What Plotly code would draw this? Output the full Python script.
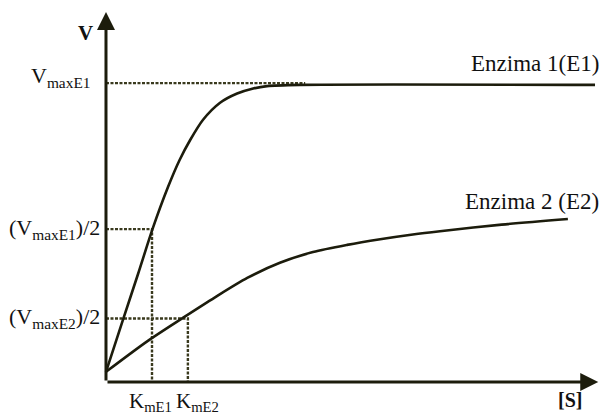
import plotly.graph_objects as go

# Data (arbitrary units: x in units of KmE1, y in units of VmaxE1)
e1_s = [0.0, 0.37, 0.70, 1.02, 1.35, 1.60, 1.83, 2.11, 2.48, 2.85, 3.20, 3.50, 4.22, 10.63]
e1_v = [0.034, 0.209, 0.364, 0.517, 0.655, 0.745, 0.812, 0.880, 0.937, 0.968, 0.985, 0.993, 0.997, 0.997]
e2_s = [0.0, 0.91, 1.67, 2.37, 3.07, 3.78, 4.50, 5.24, 5.96, 6.67, 7.26, 8.60, 10.04]
e2_v = [0.034, 0.138, 0.215, 0.284, 0.349, 0.400, 0.436, 0.460, 0.479, 0.495, 0.506, 0.528, 0.547]

vmax_e1 = 1.003
half_vmax_e1 = 0.513
half_vmax_e2 = 0.213
km_e1 = 1.0
km_e2 = 1.78
vmax_line_end = 4.33

labels = {
    "e1": "Enzima 1(E1)",
    "e2": "Enzima 2 (E2)",
    "y": "V",
    "x": "[S]",
}

x_min, x_max = -2.304, 10.76
y_min, y_max = -0.111, 1.282
x_arrow = 10.70
y_arrow = 1.242

ink = "#1c1c0c"
guide = "#3a3a1e"
serif = "Liberation Serif"

fig = go.Figure()

# guide lines
gl = dict(color=guide, width=2.4, dash="3px,1.5px")
fig.add_trace(go.Scatter(x=[0, vmax_line_end], y=[vmax_e1, vmax_e1], mode="lines",
                         line=gl, hoverinfo="skip"))
fig.add_trace(go.Scatter(x=[0, km_e1, km_e1], y=[half_vmax_e1, half_vmax_e1, 0], mode="lines",
                         line=gl, hoverinfo="skip"))
fig.add_trace(go.Scatter(x=[0, km_e2, km_e2], y=[half_vmax_e2, half_vmax_e2, 0], mode="lines",
                         line=gl, hoverinfo="skip"))

# curves
fig.add_trace(go.Scatter(x=e1_s, y=e1_v, mode="lines",
                         line=dict(color=ink, width=2.6, shape="spline", smoothing=0.8)))
fig.add_trace(go.Scatter(x=e2_s, y=e2_v, mode="lines",
                         line=dict(color=ink, width=2.6, shape="spline", smoothing=0.8)))

ann = []
# axes arrows
ann.append(dict(x=0, y=y_arrow, ax=0, ay=0, xref="x", yref="y", axref="x", ayref="y",
                showarrow=True, arrowhead=2, arrowsize=1.2, arrowwidth=3, arrowcolor=ink, text=""))
ann.append(dict(x=x_arrow, y=0, ax=0, ay=0, xref="x", yref="y", axref="x", ayref="y",
                showarrow=True, arrowhead=2, arrowsize=1.2, arrowwidth=3, arrowcolor=ink, text=""))

def txt(x, y, t, xanchor="center", yanchor="middle", size=22):
    ann.append(dict(x=x, y=y, text=t, showarrow=False, xanchor=xanchor, yanchor=yanchor,
                    xref="x", yref="y", font=dict(family=serif, size=size, color="#111111")))

txt(-0.24, 1.171, "<b>" + labels["y"] + "</b>", xanchor="right", size=21)
txt(-0.28, vmax_e1 + 0.02, "V<sub>maxE1</sub>", xanchor="right")
txt(-0.09, half_vmax_e1, "(V<sub>maxE1</sub>)/2", xanchor="right")
txt(-0.09, half_vmax_e2, "(V<sub>maxE2</sub>)/2", xanchor="right")
txt(0.96, -0.066, "K<sub>mE1</sub>", size=21)
txt(1.98, -0.066, "K<sub>mE2</sub>", size=21)
txt(10.76, 1.07, labels["e1"], xanchor="right", size=23)
txt(10.76, 0.604, labels["e2"], xanchor="right", size=23)
txt(10.09, -0.06, "<b>" + labels["x"] + "</b>", size=20)

fig.update_layout(
    width=601, height=415,
    margin=dict(l=0, r=0, t=0, b=0),
    paper_bgcolor="white", plot_bgcolor="white",
    showlegend=False,
    xaxis=dict(range=[x_min, x_max], visible=False),
    yaxis=dict(range=[y_min, y_max], visible=False),
    annotations=ann,
)

fig.write_html("out.html", config={"displayModeBar": False},
               post_script="document.body.style.margin='0';")
